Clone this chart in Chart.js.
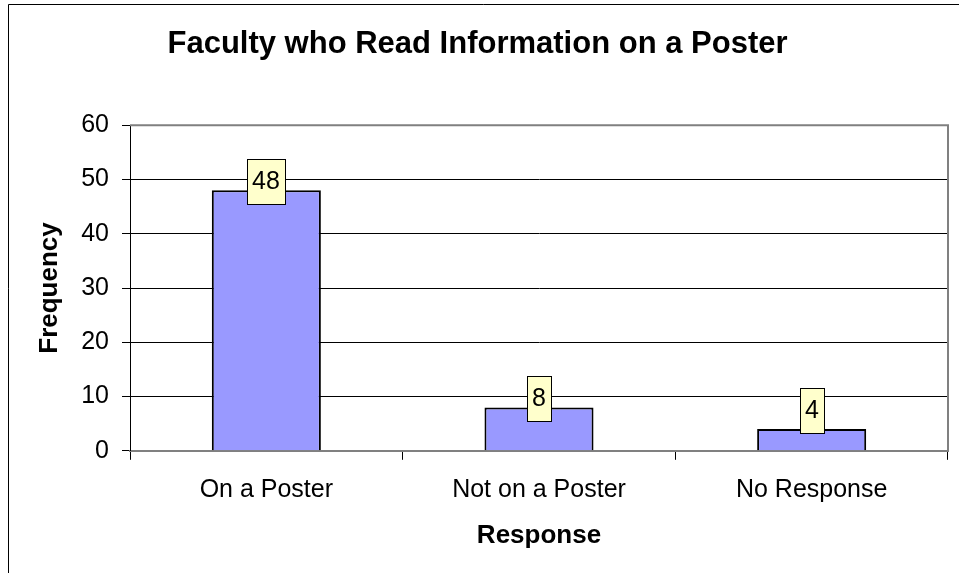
<!DOCTYPE html>
<html><head><meta charset="utf-8">
<script src="https://cdn.jsdelivr.net/npm/chart.js@4/dist/chart.umd.min.js"></script>
<style>html,body{margin:0;padding:0;background:#fff;}#wrap{width:959px;height:573px;}</style>
</head><body><div id="wrap"><canvas id="c" width="959" height="573"></canvas></div>
<script>
const categories = ["On a Poster", "Not on a Poster", "No Response"];
const frequency = [48, 8, 4];
const yTicks = [0, 10, 20, 30, 40, 50, 60];
const titleText = "Faculty who Read Information on a Poster";
const xTitle = "Response";
const yTitle = "Frequency";

const FONT = "'Liberation Sans', Arial, sans-serif";

const framePlugin = {
  id: 'frame',
  beforeDraw(chart) {
    const ctx = chart.ctx;
    ctx.save();
    ctx.fillStyle = '#fff';
    ctx.fillRect(0, 0, chart.width, chart.height);
    ctx.strokeStyle = '#000';
    ctx.lineWidth = 1;
    ctx.beginPath();
    ctx.moveTo(8.5, chart.height);
    ctx.lineTo(8.5, 4.5);
    ctx.lineTo(chart.width, 4.5);
    ctx.stroke();
    ctx.restore();
  },
  beforeDatasetsDraw(chart) {
    const a = chart.chartArea, ctx = chart.ctx;
    ctx.save();
    ctx.strokeStyle = '#808080';
    ctx.lineWidth = 2;
    ctx.beginPath();
    ctx.moveTo(a.left, a.top);
    ctx.lineTo(a.right, a.top);
    ctx.lineTo(a.right, a.bottom);
    ctx.stroke();
    ctx.restore();
  }
};

const labelPlugin = {
  id: 'boxLabels',
  afterDatasetsDraw(chart) {
    const ctx = chart.ctx;
    const meta = chart.getDatasetMeta(0);
    const base = chart.scales.y.getPixelForValue(0);
    ctx.save();
    ctx.font = '25px ' + FONT;
    ctx.textAlign = 'center';
    ctx.textBaseline = 'middle';
    meta.data.forEach((bar, i) => {
      const txt = String(chart.data.datasets[0].data[i]);
      const w = Math.round(ctx.measureText(txt).width + 10);
      const h = 45;
      const cx = Math.round(bar.x);
      const cy = Math.min(bar.y - 9, base - 18 - h / 2);
      const x0 = Math.round(cx - w / 2) + 0.5, y0 = Math.round(cy - h / 2) + 0.5;
      ctx.fillStyle = '#FFFFCC';
      ctx.fillRect(x0, y0, w, h);
      ctx.strokeStyle = '#000';
      ctx.lineWidth = 1;
      ctx.strokeRect(x0, y0, w, h);
      ctx.fillStyle = '#000';
      ctx.fillText(txt, cx, cy + 1);
    });
    ctx.restore();
  }
};

new Chart(document.getElementById('c'), {
  type: 'bar',
  data: {
    labels: categories,
    datasets: [{
      data: frequency,
      backgroundColor: '#9999FF',
      borderColor: '#000',
      borderWidth: 2,
      borderSkipped: 'bottom',
      barPercentage: 0.8,
      categoryPercentage: 0.5
    }]
  },
  options: {
    responsive: false,
    animation: false,
    devicePixelRatio: 1,
    layout: { padding: { left: 7, right: 11, top: 0, bottom: 22 } },
    plugins: {
      legend: { display: false },
      tooltip: { enabled: false },
      title: {
        display: true,
        text: titleText,
        color: '#000',
        font: { family: FONT, size: 31, weight: 'bold', lineHeight: 1.2 },
        padding: { top: 26, bottom: 62 }
      }
    },
    scales: {
      x: {
        offset: true,
        grid: { display: true, drawOnChartArea: false, offset: true, color: '#000', tickLength: 9, tickColor: '#000' },
        border: { display: true, color: '#808080', width: 2 },
        ticks: { color: '#000', font: { family: FONT, size: 25, lineHeight: 1.2 }, padding: 15, maxRotation: 0 },
        title: { display: true, text: xTitle, color: '#000', font: { family: FONT, size: 26, weight: 'bold', lineHeight: 1.2 }, padding: { top: 0, bottom: 0 } }
      },
      y: {
        min: 0, max: 60,
        afterBuildTicks(scale) { scale.ticks = yTicks.map(v => ({ value: v })); },
        grid: { color: '#000', lineWidth: 1, tickLength: 8, tickColor: '#000', drawTicks: true },
        border: { display: true, color: '#000', width: 1 },
        ticks: { color: '#000', font: { family: FONT, size: 25, lineHeight: 1.2 }, padding: 13 },
        title: { display: true, text: yTitle, color: '#000', font: { family: FONT, size: 26, weight: 'bold', lineHeight: 1.2 }, padding: { top: 27, bottom: 3 } }
      }
    }
  },
  plugins: [framePlugin, labelPlugin]
});
</script></body></html>
